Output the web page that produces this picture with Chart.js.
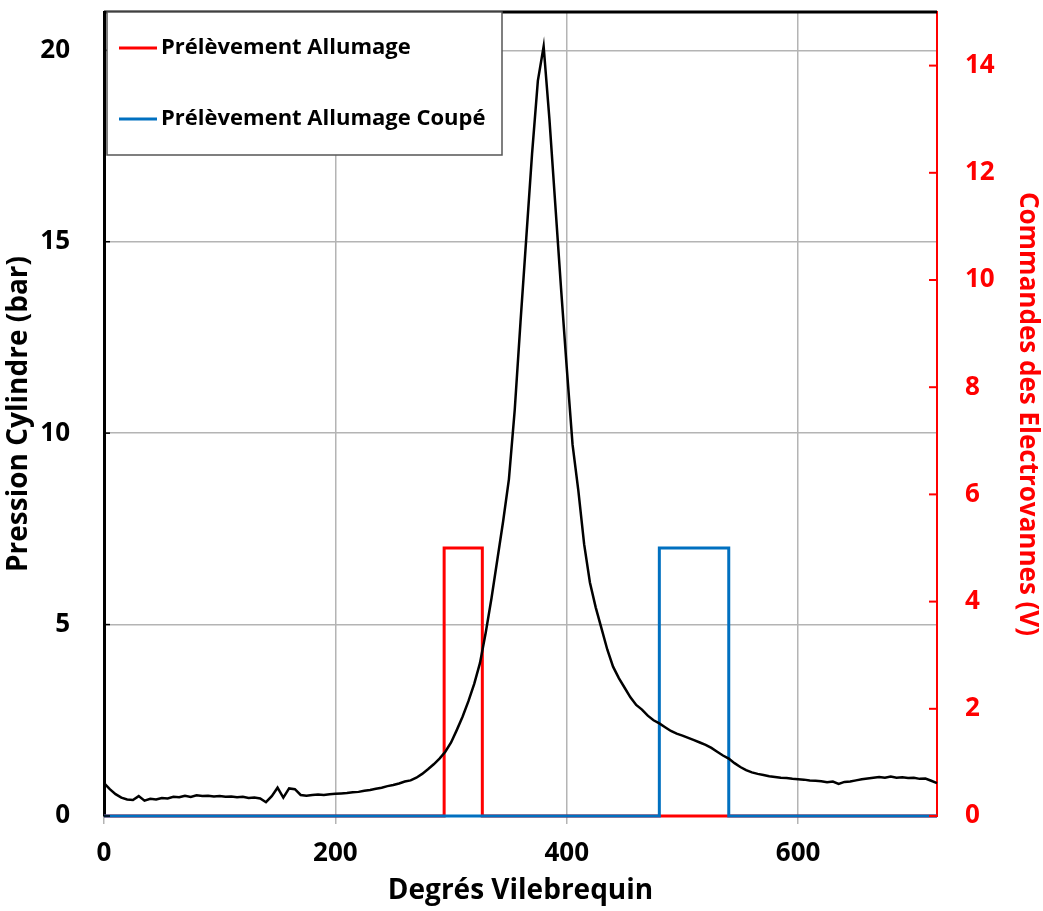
<!DOCTYPE html>
<html>
<head>
<meta charset="utf-8">
<script src="https://cdn.jsdelivr.net/npm/chart.js@4.4.1/dist/chart.umd.min.js"></script>
<style>
  html, body { margin: 0; padding: 0; background: #fff; }
  #wrap { width: 1043px; height: 911px; }
</style>
</head>
<body>
<div id="wrap"><canvas id="chart"></canvas></div>
<script>
// cylinder pressure (bar), one reading every 5 crank degrees from 0 to 720
const pressure = [
  0.86, 0.70, 0.57, 0.48, 0.43, 0.42, 0.52, 0.40, 0.45, 0.43,
  0.47, 0.46, 0.50, 0.49, 0.53, 0.50, 0.54, 0.52, 0.53, 0.51,
  0.52, 0.50, 0.51, 0.49, 0.50, 0.47, 0.48, 0.46, 0.36, 0.52,
  0.74, 0.48, 0.72, 0.70, 0.55, 0.53, 0.55, 0.56, 0.55, 0.57,
  0.58, 0.59, 0.60, 0.62, 0.63, 0.66, 0.68, 0.71, 0.74, 0.78,
  0.81, 0.85, 0.90, 0.93, 1.00, 1.10, 1.22, 1.35, 1.50, 1.68,
  1.92, 2.25, 2.60, 3.00, 3.45, 4.00, 4.80, 5.70, 6.70, 7.70,
  8.80, 10.6, 12.9, 15.1, 17.3, 19.2, 20.1, 18.2, 16.0, 13.8,
  11.7, 9.70, 8.50, 7.10, 6.10, 5.45, 4.90, 4.35, 3.90, 3.60,
  3.35, 3.10, 2.90, 2.78, 2.62, 2.50, 2.42, 2.32, 2.22, 2.15,
  2.10, 2.04, 1.98, 1.92, 1.86, 1.78, 1.68, 1.58, 1.50, 1.38,
  1.28, 1.20, 1.14, 1.10, 1.07, 1.04, 1.02, 1.00, 0.99, 0.97,
  0.96, 0.95, 0.93, 0.92, 0.91, 0.88, 0.90, 0.84, 0.89, 0.90,
  0.93, 0.96, 0.98, 1.00, 1.02, 1.00, 1.03, 1.00, 1.01, 0.99,
  1.00, 0.97, 0.98, 0.92, 0.86
];
const angles = pressure.map((p, i) => i * 5);

// solenoid valve commands (V)
const ignitionAngles = [0, 294, 294, 327, 327, 720];
const ignitionVolts  = [0, 0, 5, 5, 0, 0];
const cutAngles = [0, 480, 480, 540, 540, 720];
const cutVolts  = [0, 0, 5, 5, 0, 0];

const xTicks = [0, 200, 400, 600];
const leftTicks = [0, 5, 10, 15, 20];
const rightTicks = [0, 2, 4, 6, 8, 10, 12, 14];

const FONT = "'Open Sans', 'DejaVu Sans', sans-serif";
const RED = '#ff0000';
const BLUE = '#0070c0';
const GRID = '#b4b4b4';

function pairs(xs, ys) {
  return xs.map((x, i) => ({ x: x, y: ys[i] }));
}

// scales reserve room for their end labels; the reference plot does not
function noPad(s) {
  s.paddingTop = 0;
  s.paddingBottom = 0;
  s.paddingLeft = 0;
  s.paddingRight = 0;
}

const frame = {
  id: 'frame',
  afterDatasetsDraw(chart) {
    const ctx = chart.ctx;
    const a = chart.chartArea;
    ctx.save();
    // top border
    ctx.strokeStyle = '#000';
    ctx.lineWidth = 3;
    ctx.beginPath();
    ctx.moveTo(a.left, a.top);
    ctx.lineTo(a.right, a.top);
    ctx.stroke();
    // inner tick marks
    const yl = chart.scales.y;
    const yr = chart.scales.y2;
    ctx.lineWidth = 1.5;
    ctx.strokeStyle = '#000';
    leftTicks.forEach(v => {
      const py = yl.getPixelForValue(v);
      ctx.beginPath(); ctx.moveTo(a.left, py); ctx.lineTo(a.left + 6, py); ctx.stroke();
    });
    ctx.strokeStyle = RED;
    ctx.lineWidth = 2;
    rightTicks.forEach(v => {
      const py = yr.getPixelForValue(v);
      ctx.beginPath(); ctx.moveTo(a.right - 8, py); ctx.lineTo(a.right, py); ctx.stroke();
    });
    // legend box
    const bx = a.left + 3, by = a.top, bw = 395, bh = 143;
    ctx.fillStyle = '#fff';
    ctx.fillRect(bx, by, bw, bh);
    ctx.strokeStyle = '#555';
    ctx.lineWidth = 1.5;
    ctx.strokeRect(bx, by, bw, bh);
    const items = chart.data.datasets.filter(d => d.label).sort((p, q) => p.legendOrder - q.legendOrder);
    ctx.font = 'bold 22px ' + FONT;
    ctx.textBaseline = 'middle';
    ctx.textAlign = 'left';
    items.forEach((d, i) => {
      const ly = by + 36 + i * 71;
      ctx.strokeStyle = d.borderColor;
      ctx.lineWidth = 3;
      ctx.beginPath(); ctx.moveTo(bx + 12, ly); ctx.lineTo(bx + 50, ly); ctx.stroke();
      ctx.fillStyle = '#000';
      ctx.fillText(d.label, bx + 54, ly);
    });
    ctx.restore();
  }
};

new Chart(document.getElementById('chart'), {
  type: 'line',
  data: {
    datasets: [
      {
        data: pairs(angles, pressure),
        yAxisID: 'y',
        borderColor: '#000',
        borderWidth: 2.5,
        pointRadius: 0,
        tension: 0,
        clip: 4
      },
      {
        label: 'Prélèvement Allumage Coupé',
        legendOrder: 2,
        data: pairs(cutAngles, cutVolts),
        yAxisID: 'y2',
        borderColor: BLUE,
        borderWidth: 3,
        pointRadius: 0,
        tension: 0,
        clip: 4
      },
      {
        label: 'Prélèvement Allumage',
        legendOrder: 1,
        data: pairs(ignitionAngles, ignitionVolts),
        yAxisID: 'y2',
        borderColor: RED,
        borderWidth: 3,
        pointRadius: 0,
        tension: 0,
        clip: 4
      }
    ]
  },
  options: {
    responsive: true,
    maintainAspectRatio: false,
    animation: false,
    layout: { padding: { top: 12, left: 0, right: 0, bottom: 0 } },
    plugins: { legend: { display: false }, tooltip: { enabled: false } },
    scales: {
      x: {
        type: 'linear',
        min: 0,
        max: 720,
        afterBuildTicks: s => { s.ticks = xTicks.map(v => ({ value: v })); },
        afterFit: s => { s.height = 95; noPad(s); },
        grid: {
          color: c => (c.tick && c.tick.value === 0 ? 'rgba(0,0,0,0)' : GRID),
          lineWidth: 1.5,
          tickLength: 8,
          tickColor: GRID
        },
        border: { display: false },
        ticks: { color: '#000', padding: 14, font: { family: FONT, size: 26, weight: 'bold' } },
        title: {
          display: true,
          text: 'Degrés Vilebrequin',
          color: '#000',
          padding: { top: 0, bottom: 3 },
          font: { family: FONT, size: 28, weight: 'bold' }
        }
      },
      y: {
        position: 'left',
        min: 0,
        max: 21,
        afterBuildTicks: s => { s.ticks = leftTicks.map(v => ({ value: v })); },
        afterFit: s => { s.width = 104; noPad(s); },
        grid: {
          color: c => (c.tick && c.tick.value === 0 ? 'rgba(0,0,0,0)' : GRID),
          lineWidth: 1.5,
          drawTicks: false
        },
        border: { color: '#000', width: 3 },
        ticks: { color: '#000', padding: 34, font: { family: FONT, size: 26, weight: 'bold' } },
        title: {
          display: true,
          text: 'Pression Cylindre (bar)',
          color: '#000',
          padding: { top: 2, bottom: 0 },
          font: { family: FONT, size: 28, weight: 'bold' }
        }
      },
      y2: {
        position: 'right',
        min: 0,
        max: 15,
        afterBuildTicks: s => { s.ticks = rightTicks.map(v => ({ value: v })); },
        afterFit: s => { s.width = 106; noPad(s); },
        grid: { display: false, drawTicks: false },
        border: { color: RED, width: 2 },
        ticks: { color: RED, padding: 28, font: { family: FONT, size: 26, weight: 'bold' } },
        title: {
          display: true,
          text: 'Commandes des Electrovannes (V)',
          color: RED,
          padding: { top: 0, bottom: 0 },
          font: { family: FONT, size: 26, weight: 'bold' }
        }
      }
    }
  },
  plugins: [frame]
});
</script>
</body>
</html>
